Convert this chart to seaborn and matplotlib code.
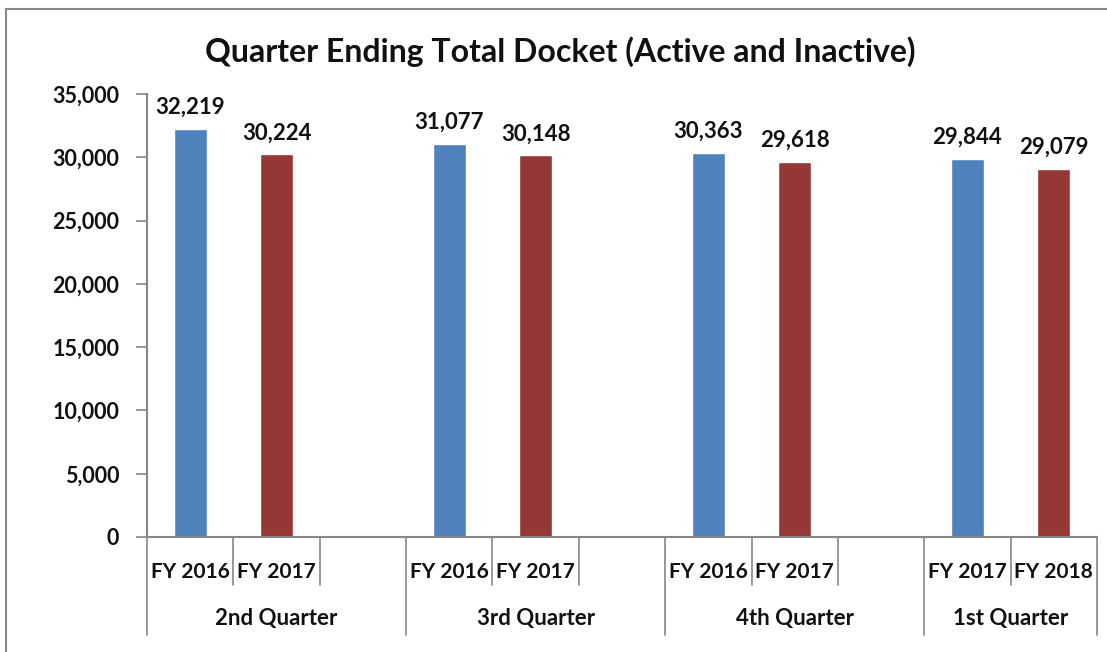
import numpy as np
import pandas as pd
import seaborn as sns
import matplotlib.pyplot as plt
from matplotlib.lines import Line2D
from matplotlib.ticker import FuncFormatter

# chart data
quarters = ['2nd Quarter', '3rd Quarter', '4th Quarter', '1st Quarter']
first_year = ['FY 2016', 'FY 2016', 'FY 2016', 'FY 2017']
second_year = ['FY 2017', 'FY 2017', 'FY 2017', 'FY 2018']
first_values = [32219, 31077, 30363, 29844]
second_values = [30224, 30148, 29618, 29079]
# the first three quarter groups carry an empty third slot in the original
empty_slot = [True, True, True, False]

sns.set_theme(style='white')
plt.rcParams['font.family'] = ['Lato', 'DejaVu Sans']
plt.rcParams['font.weight'] = 'bold'

# build the slot table (one slot per category position)
rows = []
order = []
slot_labels = []
group_bounds = []
for i, q in enumerate(quarters):
    start = len(order)
    k1 = f'{q}|{first_year[i]}'
    k2 = f'{q}|{second_year[i]}'
    rows.append({'slot': k1, 'docket': first_values[i], 'series': 'first'})
    rows.append({'slot': k2, 'docket': second_values[i], 'series': 'second'})
    order += [k1, k2]
    slot_labels += [first_year[i], second_year[i]]
    if empty_slot[i]:
        order.append(f'{q}|blank')
        slot_labels.append('')
    group_bounds.append((start, len(order)))
df = pd.DataFrame(rows)

fig = plt.figure(figsize=(11.07, 6.52), dpi=100)
ax = fig.add_axes([0.1328, 0.1764, 0.8582, 0.6794])

sns.barplot(data=df, x='slot', y='docket', hue='series', order=order,
            hue_order=['first', 'second'], dodge=False, width=0.38,
            palette={'first': '#4F81BD', 'second': '#953735'},
            saturation=1, legend=False, ax=ax)

for c in ax.containers:
    ax.bar_label(c, labels=[f'{v:,.0f}' for v in c.datavalues],
                 padding=8, fontsize=16, fontweight='bold', color='#111111')

ax.set_ylim(0, 35000)
ax.set_yticks(np.arange(0, 35001, 5000))
ax.yaxis.set_major_formatter(FuncFormatter(lambda v, p: f'{v:,.0f}'))
ax.set_xlim(-0.5, len(order) - 0.5)
ax.set_xlabel('')
ax.set_ylabel('')

for s in ['top', 'right']:
    ax.spines[s].set_visible(False)
for s in ['left', 'bottom']:
    ax.spines[s].set_color('#868686')
    ax.spines[s].set_linewidth(1.5)
ax.tick_params(axis='y', which='major', length=8, width=1.2, color='#868686',
               direction='out', left=True, labelsize=15.5, pad=12, labelcolor='#111111')
for t in ax.get_yticklabels():
    t.set_fontweight('bold')

# two-level category axis, drawn the way the spreadsheet draws it
ax.set_xticks([])
trans = ax.get_xaxis_transform()
sep_col = '#868686'
group_edges = set()
for a, b in group_bounds:
    group_edges.add(a)
    group_edges.add(b)
for e in range(len(order) + 1):
    y_end = -0.221 if e in group_edges else -0.108
    ax.add_line(Line2D([e - 0.5, e - 0.5], [0, y_end], transform=trans,
                       color=sep_col, lw=1.2, clip_on=False))
for idx, lab in enumerate(slot_labels):
    if lab:
        ax.text(idx, -0.079, lab, transform=trans, ha='center', va='center',
                fontsize=15, fontweight='bold', color='#111111')
for (a, b), q in zip(group_bounds, quarters):
    ax.text((a + b - 1) / 2, -0.185, q, transform=trans, ha='center',
            va='center', fontsize=16, fontweight='bold', color='#111111')

fig.text(0.506, 0.921, 'Quarter Ending Total Docket (Active and Inactive)',
         ha='center', va='center', fontsize=23, fontweight='bold', color='#111111')

# outer chart-area frame
fig.add_artist(Line2D([0.0054, 0.0054], [0, 0.986], transform=fig.transFigure,
                      color='#878787', lw=1.5))
fig.add_artist(Line2D([0.0054, 1], [0.986, 0.986], transform=fig.transFigure,
                      color='#878787', lw=1.5))

fig.savefig('out.png', dpi=100)
